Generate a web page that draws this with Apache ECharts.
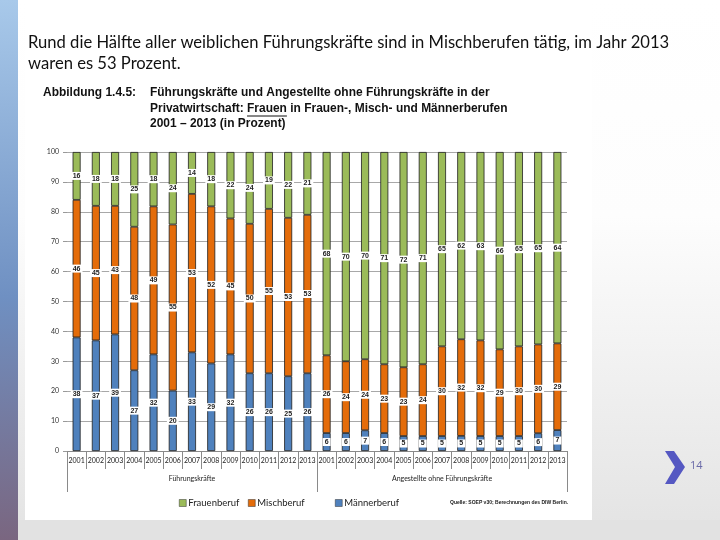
<!DOCTYPE html>
<html><head><meta charset="utf-8">
<script src="https://cdn.jsdelivr.net/npm/echarts@6/dist/echarts.min.js"></script>
<style>html,body{margin:0;padding:0;background:#fff}#c{width:720px;height:540px}</style>
</head><body><div id="c"></div>
<script>
const years = ['2001','2002','2003','2004','2005','2006','2007','2008','2009','2010','2011','2012','2013'];
const groups = ['Führungskräfte','Angestellte ohne Führungskräfte'];
// Führungskräfte (Prozent)
const fkFrauen = [16,18,18,25,18,24,14,18,22,24,19,22,21];
const fkMisch  = [46,45,43,48,49,55,53,52,45,50,55,53,53];
const fkMaenner= [38,37,39,27,32,20,33,29,32,26,26,25,26];
// Angestellte ohne Führungskräfte (Prozent)
const anFrauen = [68,70,70,71,72,71,65,62,63,66,65,65,64];
const anMisch  = [26,24,24,23,23,24,30,32,32,29,30,30,29];
const anMaenner= [6,6,7,6,5,5,5,5,5,5,5,6,7];
const yTicks = [0,100,10];

const cats = years.concat(years);
const frauen = fkFrauen.concat(anFrauen);
const misch = fkMisch.concat(anMisch);
const maenner = fkMaenner.concat(anMaenner);
// 100 % stacked (like the original Excel chart): heights share of the column total, labels show the printed values
const totals = cats.map((_, i) => frauen[i] + misch[i] + maenner[i]);
const share = arr => arr.map((v, i) => ({value: v * 100 / totals[i], raw: v}));

const chart = echarts.init(document.getElementById('c'));
const lbl = {show:true, position:'inside', backgroundColor:'#fff', padding:[1,2,0,2],
  fontSize:7, fontWeight:'bold', color:'#222', fontFamily:'Liberation Sans, Arial',
  formatter: p => String(p.data.raw)};
function ser(name, data, color){
  return {name, type:'bar', stack:'s', data: share(data), barWidth:8, xAxisIndex:0,
    itemStyle:{color, borderColor:'#202020', borderWidth:0.8}, label:lbl, emphasis:{disabled:true}};
}
const hFont = 'bold 13px "Liberation Sans", Arial, sans-serif';
const hs = 0.92;
const cv = document.createElement('canvas').getContext('2d');
cv.font = hFont;
const ulX = 150 + cv.measureText('Privatwirtschaft: ').width * hs;
const ulW = cv.measureText('Frauen').width * hs;
const lg = (name, left) => ({data:[name], left, top:493, itemWidth:7, itemHeight:7, icon:'rect',
  itemStyle:{borderColor:'#333', borderWidth:0.5},
  textStyle:{fontSize:9.5, fontFamily:'Lato, sans-serif', color:'#222', padding:[0,0,0,-3]}});
chart.setOption({
  animation:false,
  graphic:[
    {type:'rect', z:-10, shape:{x:0,y:0,width:720,height:540},
      style:{fill:new echarts.graphic.LinearGradient(0,0,0,1,[{offset:0,color:'#ffffff'},{offset:0.4,color:'#fdfdfd'},{offset:1,color:'#e3e3e3'}])}},
    {type:'rect', z:-9, shape:{x:18,y:520,width:702,height:20}, style:{fill:'#e2e2e2'}},
    {type:'rect', z:-8, shape:{x:0,y:0,width:18,height:540},
      style:{fill:new echarts.graphic.LinearGradient(0,0,0,1,[{offset:0,color:'#a8c9ea'},{offset:0.55,color:'#6f90c2'},{offset:1,color:'#7a6680'}])}},
    {type:'rect', z:-7, shape:{x:25,y:0,width:567,height:520}, style:{fill:'#ffffff'}},
    {type:'text', x:28, y:34, style:{text:'Rund die Hälfte aller weiblichen Führungskräfte sind in Mischberufen tätig, im Jahr 2013', font:'16.6px Lato, "Open Sans", sans-serif', fill:'#111'}},
    {type:'text', x:28, y:55, style:{text:'waren es 53 Prozent.', font:'16.6px Lato, "Open Sans", sans-serif', fill:'#111'}},
    {type:'text', x:43, y:86, scaleX:hs, style:{text:'Abbildung 1.4.5:', font:hFont, fill:'#111'}},
    {type:'text', x:150, y:86, scaleX:hs, style:{text:'Führungskräfte und Angestellte ohne Führungskräfte in der', font:hFont, fill:'#111'}},
    {type:'text', x:150, y:102, scaleX:hs, style:{text:'Privatwirtschaft: Frauen in Frauen-, Misch- und Männerberufen', font:hFont, fill:'#111'}},
    {type:'line', shape:{x1:ulX,y1:116,x2:ulX+ulW,y2:116}, style:{stroke:'#111', lineWidth:1}},
    {type:'text', x:150, y:117, scaleX:hs, style:{text:'2001 – 2013 (in Prozent)', font:hFont, fill:'#111'}},
    {type:'text', x:450, y:500, style:{text:'Quelle: SOEP v30; Berechnungen des DIW Berlin.', font:'bold 5px "Liberation Sans", Arial', fill:'#222'}},
    {type:'polygon', shape:{points:[[665,451],[674,451],[685,467],[674,484],[665,484],[675,467]]}, style:{fill:'#5558c2'}},
    {type:'text', x:690, y:460, style:{text:'14', font:'11px "Open Sans", sans-serif', fill:'#6a6aa8'}}
  ],
  grid:{left:67, right:153, top:152, bottom:89, containLabel:false},
  legend:[lg('Frauenberuf',174), lg('Mischberuf',243), lg('Männerberuf',330)],
  xAxis:[
    {type:'category', data:cats, position:'bottom',
      axisLine:{show:true, lineStyle:{color:'#8a8a8a', width:1}},
      axisTick:{show:true, interval:0, alignWithLabel:false, length:18, lineStyle:{color:'#8a8a8a'}},
      axisLabel:{interval:0, fontSize:7, color:'#222', margin:6, fontFamily:'Lato, sans-serif'}},
    {type:'category', data:groups, position:'bottom',
      axisLine:{show:false},
      axisTick:{show:true, interval:0, alignWithLabel:false, length:41, lineStyle:{color:'#8a8a8a'}},
      axisLabel:{interval:0, fontSize:7, color:'#222', margin:24, fontFamily:'Lato, sans-serif'}}
  ],
  yAxis:{type:'value', min:yTicks[0], max:yTicks[1], interval:yTicks[2],
    axisLine:{show:false}, axisTick:{show:true, length:4, lineStyle:{color:'#999'}},
    splitLine:{lineStyle:{color:'#a8a8a8', width:1}},
    axisLabel:{fontSize:7, color:'#333', margin:8, fontFamily:'Lato, sans-serif'}},
  series:[
    ser('Männerberuf', maenner, '#4f81bd'),
    ser('Mischberuf', misch, '#e46c0a'),
    ser('Frauenberuf', frauen, '#9bbb59')
  ]
});
</script></body></html>
